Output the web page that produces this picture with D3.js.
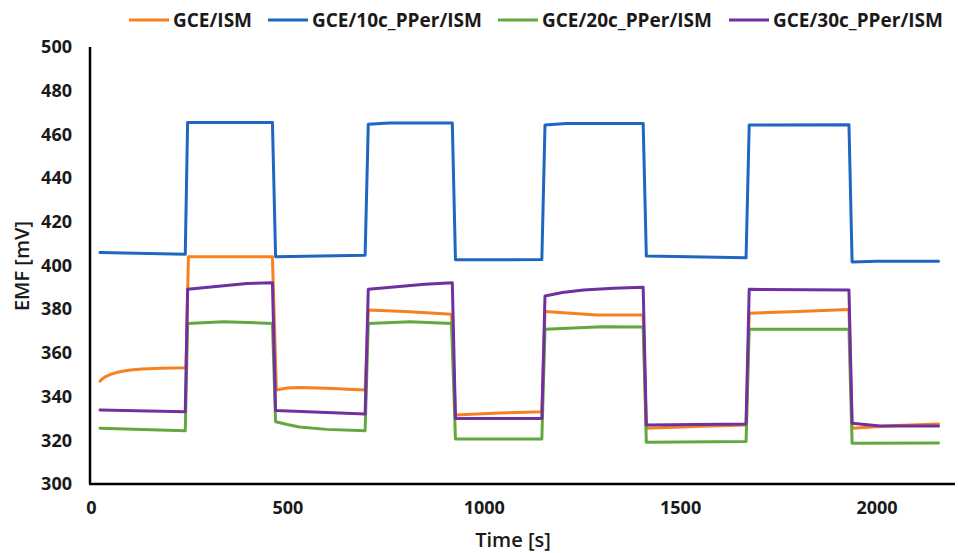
<!DOCTYPE html>
<html>
<head>
<meta charset="utf-8">
<script src="https://cdn.jsdelivr.net/npm/d3@7"></script>
<style>
  body { margin: 0; background: #fff; }
  svg { display: block; font-family: "Open Sans", sans-serif; }
</style>
</head>
<body>
<svg width="958" height="553"></svg>
<script>
// подписи серий и цвета
const seriesNames = ["GCE/ISM", "GCE/10c_PPer/ISM", "GCE/20c_PPer/ISM", "GCE/30c_PPer/ISM"];
const seriesColors = ["#f7801f", "#1f66c2", "#62a83e", "#7030a0"];

// деления осей
const xTicks = [0, 500, 1000, 1500, 2000];
const yTicks = [300, 320, 340, 360, 380, 400, 420, 440, 460, 480, 500];

// данные [время, ЭДС]
const gceIsm = [
  [23, 347.1], [30, 348.3], [40, 349.4], [50, 350.2], [65, 351.0], [80, 351.6], [100, 352.2],
  [130, 352.6], [180, 353.0], [242, 353.2],
  [248, 404.0], [462, 404.0],
  [472, 343.0], [500, 343.9], [530, 344.2], [600, 343.8], [698, 343.0],
  [706, 379.6], [800, 379.0], [918, 377.7],
  [928, 331.6], [1040, 332.5], [1148, 333.1],
  [1156, 378.9], [1288, 377.4], [1406, 377.4],
  [1414, 325.5], [1540, 326.3], [1668, 327.0],
  [1676, 378.1], [1800, 379.0], [1930, 379.9],
  [1938, 325.5], [2050, 326.8], [2158, 327.5]
];
const gce10c = [
  [23, 405.9], [240, 405.1],
  [246, 465.5], [462, 465.5],
  [470, 404.0], [698, 404.7],
  [706, 464.6], [760, 465.2], [920, 465.2],
  [928, 402.6], [1148, 402.7],
  [1156, 464.3], [1210, 465.0], [1406, 465.0],
  [1414, 404.3], [1668, 403.5],
  [1676, 464.3], [1930, 464.4],
  [1938, 401.6], [2000, 402.0], [2158, 402.0]
];
const gce20c = [
  [23, 325.5], [240, 324.4],
  [246, 373.5], [337, 374.3], [462, 373.5],
  [470, 328.5], [500, 327.2], [530, 326.1], [600, 325.0], [698, 324.4],
  [706, 373.5], [813, 374.3], [918, 373.5],
  [928, 320.6], [1148, 320.6],
  [1156, 370.8], [1300, 372.0], [1406, 371.9],
  [1414, 319.1], [1668, 319.5],
  [1676, 370.8], [1930, 370.8],
  [1938, 318.6], [2158, 318.8]
];
const gce30c = [
  [23, 333.9], [240, 333.1],
  [246, 389.1], [397, 391.8], [462, 392.1],
  [470, 333.6], [698, 332.0],
  [706, 389.1], [850, 391.4], [920, 392.1],
  [928, 330.0], [1148, 330.0],
  [1156, 386.0], [1200, 387.6], [1254, 388.8], [1330, 389.6], [1406, 390.0],
  [1414, 327.0], [1668, 327.5],
  [1676, 389.1], [1930, 388.8],
  [1938, 327.8], [2010, 326.5], [2158, 326.5]
];
const allSeries = [gceIsm, gce10c, gce20c, gce30c];

const svg = d3.select("svg");

const area = { left: 91, right: 955, top: 47, bottom: 484 };

const scX = d3.scaleLinear().domain([0, 2200]).range([area.left, area.right]);
const scY = d3.scaleLinear().domain([300, 500]).range([area.bottom, area.top]);

// оси без засечек, только подписи
const axisY = svg.append("g")
  .attr("transform", `translate(${area.left},0)`)
  .call(d3.axisLeft(scY).tickValues(yTicks).tickSize(0).tickPadding(19).tickFormat(d3.format("d")));
const axisX = svg.append("g")
  .attr("transform", `translate(0,${area.bottom})`)
  .call(d3.axisBottom(scX).tickValues(xTicks).tickSize(0).tickPadding(17).tickFormat(d3.format("d")));

[axisX, axisY].forEach(g => {
  g.select(".domain").remove();
  g.selectAll("text")
    .style("font-family", "'Open Sans', sans-serif")
    .style("font-size", "18px")
    .style("font-weight", "700")
    .style("fill", "#1a1a1a");
});

// линии осей
svg.append("line")
  .attr("x1", area.left - 1).attr("x2", area.left - 1)
  .attr("y1", area.top).attr("y2", area.bottom)
  .attr("stroke", "#000").attr("stroke-width", 2.5);
svg.append("line")
  .attr("x1", area.left - 2).attr("x2", area.right)
  .attr("y1", area.bottom).attr("y2", area.bottom)
  .attr("stroke", "#000").attr("stroke-width", 2.5);

// серии
const line = d3.line().x(d => scX(d[0])).y(d => scY(d[1]));
allSeries.forEach((s, i) => {
  svg.append("path")
    .datum(s)
    .attr("d", line)
    .attr("fill", "none")
    .attr("stroke", seriesColors[i])
    .attr("stroke-width", 3)
    .attr("stroke-linejoin", "round")
    .attr("stroke-linecap", "round");
});

// подписи осей
svg.append("text")
  .attr("x", 513).attr("y", 547)
  .attr("text-anchor", "middle")
  .style("font-size", "20px").style("font-weight", "600").style("fill", "#1a1a1a")
  .text("Time [s]");
svg.append("text")
  .attr("transform", "translate(29,266) rotate(-90)")
  .attr("text-anchor", "middle")
  .style("font-size", "20px").style("font-weight", "600").style("fill", "#1a1a1a")
  .text("EMF [mV]");

// легенда
const legendX = [129, 268, 498, 729];
const legend = svg.append("g");
seriesNames.forEach((name, i) => {
  const g = legend.append("g").attr("transform", `translate(${legendX[i]},20)`);
  g.append("line")
    .attr("x1", 0).attr("x2", 40).attr("y1", 0).attr("y2", 0)
    .attr("stroke", seriesColors[i]).attr("stroke-width", 3);
  g.append("text")
    .attr("x", 44).attr("y", 7)
    .style("font-size", "19px").style("font-weight", "700").style("fill", "#1a1a1a")
    .text(name);
});
</script>
</body>
</html>
